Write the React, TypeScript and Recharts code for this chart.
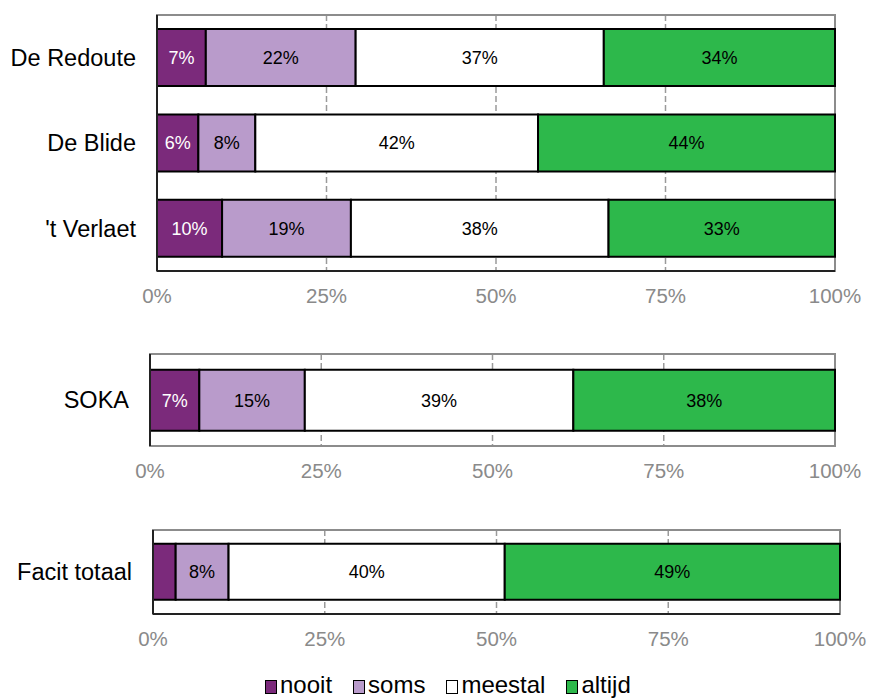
import { Bar, BarChart, CartesianGrid, LabelList, ReferenceArea, XAxis, YAxis } from 'recharts'

const seriesNames = ['nooit', 'soms', 'meestal', 'altijd']
const seriesColors = ['#7b2a7b', '#b99bcb', '#ffffff', '#2db84b']
const labelColors = ['#ffffff', '#000000', '#000000', '#000000']

const groupCategories = ['De Redoute', 'De Blide', "'t Verlaet"]
const groupNooit = [7.2, 6.1, 9.6]
const groupSoms = [22.1, 8.4, 19.0]
const groupMeestal = [36.6, 41.7, 38.0]
const groupAltijd = [34.1, 43.8, 33.4]

const sokaCategories = ['SOKA']
const sokaNooit = [7.2]
const sokaSoms = [15.4]
const sokaMeestal = [39.2]
const sokaAltijd = [38.2]

const totalCategories = ['Facit totaal']
const totalNooit = [3.3]
const totalSoms = [7.7]
const totalMeestal = [40.2]
const totalAltijd = [48.8]

const xTicks = [0, 25, 50, 75, 100]

const font = '"Liberation Sans", Arial, sans-serif'

function rows(cats: string[], a: number[], b: number[], c: number[], d: number[]) {
  return cats.map((name, i) => ({ name, nooit: a[i], soms: b[i], meestal: c[i], altijd: d[i] }))
}

type PanelProps = {
  data: Record<string, any>[]
  top: number
  height: number
  marginTop: number
  marginRight: number
  marginBottom: number
  yWidth: number
  gap: string
  bottomLine: string
}

function Panel({ data, top, height, marginTop, marginRight, marginBottom, yWidth, gap, bottomLine }: PanelProps) {
  return (
    <div style={{ position: 'absolute', left: 0, top, width: 869, height }}>
      <BarChart
        width={869}
        height={height}
        data={data}
        layout="vertical"
        margin={{ top: marginTop, right: marginRight, bottom: marginBottom, left: 0 }}
        barCategoryGap={gap}
      >
        <CartesianGrid horizontal={false} stroke="#9a9a9a" strokeWidth={1.5} strokeDasharray="6 3" />
        {/* plot frame: gray on top and right */}
        <ReferenceArea x1={0} x2={100} fill="none" stroke="#8c8c8c" strokeWidth={2} ifOverflow="visible" />
        <XAxis
          type="number"
          domain={[0, 100]}
          ticks={xTicks}
          tickFormatter={(v) => `${v}%`}
          tickSize={0}
          tickMargin={17}
          height={30}
          axisLine={{ stroke: bottomLine, strokeWidth: 2 }}
          tick={{ fill: '#8a8a8a', fontSize: 20.5, fontFamily: font }}
          interval={0}
        />
        <YAxis
          type="category"
          dataKey="name"
          width={yWidth}
          tickSize={0}
          tickMargin={21}
          axisLine={{ stroke: '#222', strokeWidth: 2 }}
          tick={{ fill: '#000', fontSize: 23.5, fontFamily: font }}
        />
        {seriesNames.map((s, i) => (
          <Bar
            key={s}
            dataKey={s}
            stackId="a"
            fill={seriesColors[i]}
            stroke="#000"
            strokeWidth={2}
            isAnimationActive={false}
          >
            <LabelList
              dataKey={s}
              position="center"
              formatter={(v: any) => (Number(v) < 5 ? '' : `${Math.round(Number(v))}%`)}
              fill={labelColors[i]}
              fontSize={18}
              fontFamily={font}
            />
          </Bar>
        ))}
      </BarChart>
    </div>
  )
}

function Legend() {
  return (
    <div
      style={{
        position: 'absolute',
        left: 265,
        top: 671,
        height: 28,
        display: 'flex',
        alignItems: 'center',
        fontFamily: font,
        fontSize: 24,
        lineHeight: '26px',
        color: '#000',
      }}
    >
      {seriesNames.map((s, i) => (
        <div key={s} style={{ display: 'flex', alignItems: 'center', marginRight: 21 }}>
          <span
            style={{
              display: 'inline-block',
              width: 12,
              height: 14,
              boxSizing: 'border-box',
              border: '1.5px solid #000',
              background: seriesColors[i],
              marginRight: 3,
              marginTop: 3,
            }}
          />
          <span>{s}</span>
        </div>
      ))}
    </div>
  )
}

export default function App() {
  return (
    <div style={{ position: 'absolute', left: 0, top: 0, width: 869, height: 700, background: '#fff' }}>
      <Panel
        data={rows(groupCategories, groupNooit, groupSoms, groupMeestal, groupAltijd)}
        top={0}
        height={310}
        marginTop={15}
        marginRight={34}
        marginBottom={9}
        yWidth={157}
        gap="16.5%"
        bottomLine="#222"
      />
      <Panel
        data={rows(sokaCategories, sokaNooit, sokaSoms, sokaMeestal, sokaAltijd)}
        top={320}
        height={170}
        marginTop={34}
        marginRight={34}
        marginBottom={14}
        yWidth={150}
        gap="17%"
        bottomLine="#8c8c8c"
      />
      <Panel
        data={rows(totalCategories, totalNooit, totalSoms, totalMeestal, totalAltijd)}
        top={500}
        height={160}
        marginTop={30}
        marginRight={29}
        marginBottom={16}
        yWidth={153}
        gap="16.5%"
        bottomLine="#222"
      />
      <Legend />
    </div>
  )
}
